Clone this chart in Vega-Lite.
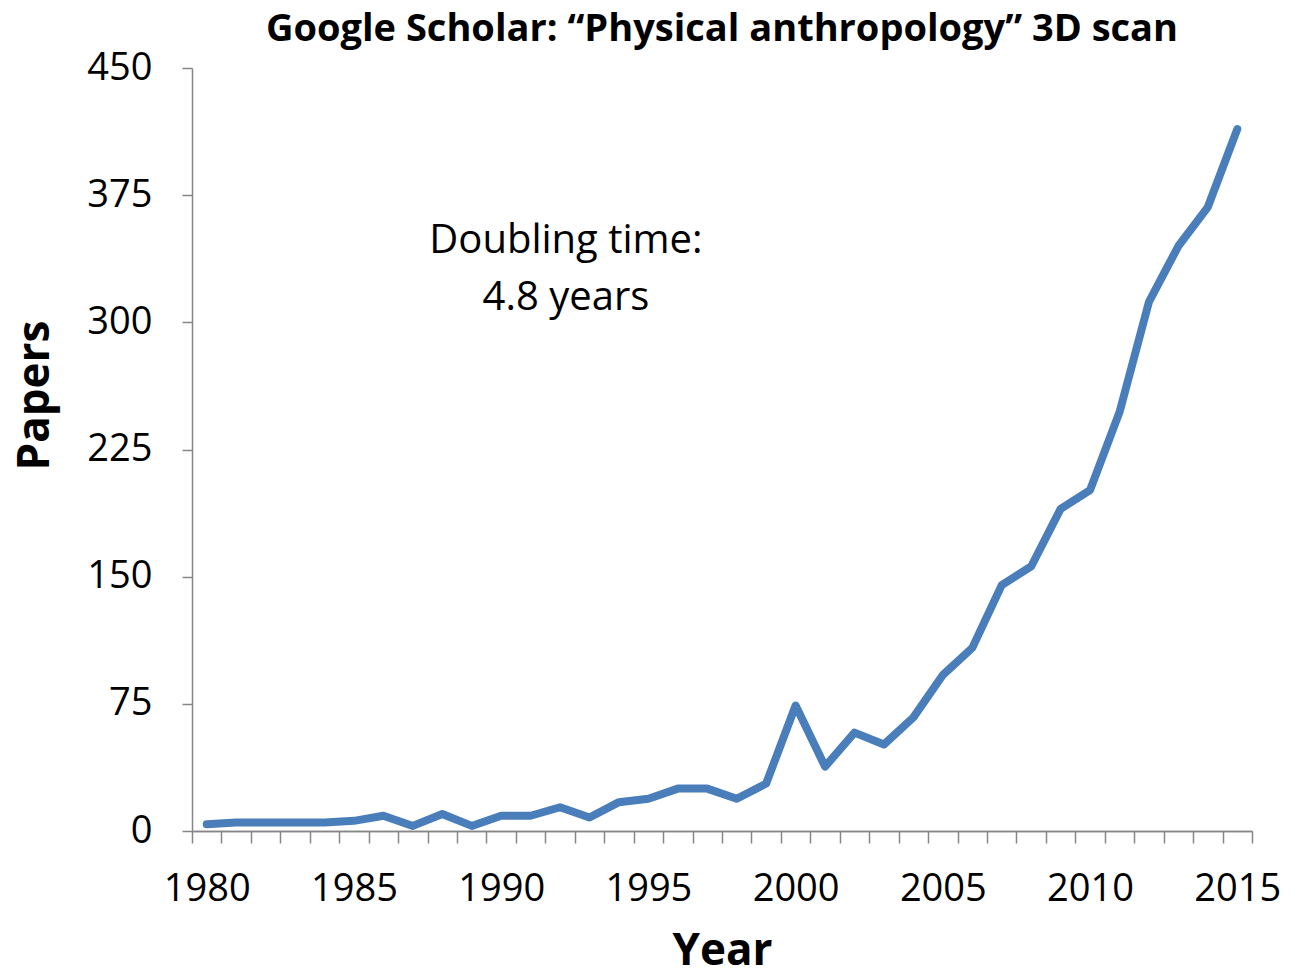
{
  "$schema": "https://vega.github.io/schema/vega-lite/v6.json",
  "width": 1060,
  "height": 763,
  "autosize": {"type": "none"},
  "padding": {"left": 192, "top": 68, "right": 47, "bottom": 141},
  "background": "white",
  "config": {"view": {"stroke": null}, "font": "Open Sans"},
  "title": {
    "text": "Google Scholar: “Physical anthropology” 3D scan",
    "font": "Open Sans",
    "fontSize": 38,
    "fontWeight": "bold",
    "color": "black",
    "anchor": "middle",
    "baseline": "alphabetic",
    "offset": 8,
    "dy": 38
  },
  "datasets": {
    "papers": [
      {"year": 1980, "papers": 4},
      {"year": 1981, "papers": 5},
      {"year": 1982, "papers": 5},
      {"year": 1983, "papers": 5},
      {"year": 1984, "papers": 5},
      {"year": 1985, "papers": 6},
      {"year": 1986, "papers": 9},
      {"year": 1987, "papers": 3},
      {"year": 1988, "papers": 10},
      {"year": 1989, "papers": 3},
      {"year": 1990, "papers": 9},
      {"year": 1991, "papers": 9},
      {"year": 1992, "papers": 14},
      {"year": 1993, "papers": 8},
      {"year": 1994, "papers": 17},
      {"year": 1995, "papers": 19},
      {"year": 1996, "papers": 25},
      {"year": 1997, "papers": 25},
      {"year": 1998, "papers": 19},
      {"year": 1999, "papers": 28},
      {"year": 2000, "papers": 74},
      {"year": 2001, "papers": 38},
      {"year": 2002, "papers": 58},
      {"year": 2003, "papers": 51},
      {"year": 2004, "papers": 67},
      {"year": 2005, "papers": 92},
      {"year": 2006, "papers": 108},
      {"year": 2007, "papers": 145},
      {"year": 2008, "papers": 156},
      {"year": 2009, "papers": 190},
      {"year": 2010, "papers": 201},
      {"year": 2011, "papers": 247},
      {"year": 2012, "papers": 312},
      {"year": 2013, "papers": 345},
      {"year": 2014, "papers": 368},
      {"year": 2015, "papers": 414}
    ],
    "note": [
      {"year": 1992.2, "papers": 348, "label": ["Doubling time:", "4.8 years"]}
    ]
  },
  "resolve": {"axis": {"x": "independent"}},
  "layer": [
    {
      "data": {"name": "papers"},
      "mark": {"type": "line", "color": "#4a7ebb", "strokeWidth": 8, "strokeJoin": "round", "strokeCap": "round"},
      "encoding": {
        "x": {
          "field": "year",
          "type": "quantitative",
          "scale": {"domain": [1979.5, 2015.5], "nice": false, "zero": false},
          "axis": {
            "orient": "bottom",
            "title": "Year",
            "titleFont": "Open Sans",
            "titleFontSize": 44,
            "titleFontWeight": "bold",
            "titleColor": "black",
            "titleBaseline": "alphabetic",
            "titleY": 133,
            "values": [1980, 1985, 1990, 1995, 2000, 2005, 2010, 2015],
            "format": "d",
            "labelOverlap": false,
            "labelBound": false,
            "labelFlush": false,
            "labelFont": "Open Sans",
            "labelFontSize": 38,
            "labelColor": "black",
            "labelBaseline": "alphabetic",
            "labelPadding": 69,
            "ticks": false,
            "domainColor": "#868686",
            "domainWidth": 1.5,
            "grid": false
          }
        },
        "y": {
          "field": "papers",
          "type": "quantitative",
          "scale": {"domain": [0, 450], "nice": false},
          "axis": {
            "title": "Papers",
            "titleFont": "Open Sans",
            "titleFontSize": 44,
            "titleFontWeight": "bold",
            "titleColor": "black",
            "titleAngle": -90,
            "titleAlign": "center",
            "titleBaseline": "middle",
            "titleX": -157,
            "titleY": 327,
            "values": [0, 75, 150, 225, 300, 375, 450],
            "labelFont": "Open Sans",
            "labelFontSize": 38,
            "labelColor": "black",
            "labelPadding": 30,
            "labelBaseline": "middle",
            "tickSize": 10,
            "tickColor": "#868686",
            "tickWidth": 1.5,
            "domainColor": "#868686",
            "domainWidth": 1.5,
            "grid": false
          }
        }
      }
    },
    {
      "data": {"name": "note"},
      "mark": {"type": "text", "font": "Open Sans", "fontSize": 40, "color": "black", "align": "center", "baseline": "middle", "lineHeight": 57},
      "encoding": {
        "x": {
          "field": "year",
          "type": "quantitative",
          "axis": {
            "orient": "bottom",
            "title": null,
            "values": [1979.5,1980.5,1981.5,1982.5,1983.5,1984.5,1985.5,1986.5,1987.5,1988.5,1989.5,1990.5,1991.5,1992.5,1993.5,1994.5,1995.5,1996.5,1997.5,1998.5,1999.5,2000.5,2001.5,2002.5,2003.5,2004.5,2005.5,2006.5,2007.5,2008.5,2009.5,2010.5,2011.5,2012.5,2013.5,2014.5,2015.5],
            "labels": false,
            "tickSize": 12,
            "tickColor": "#868686",
            "tickWidth": 1.5,
            "domainColor": "#868686",
            "domainWidth": 1.5,
            "grid": false
          }
        },
        "y": {"field": "papers", "type": "quantitative"},
        "text": {"field": "label"}
      }
    }
  ]
}
